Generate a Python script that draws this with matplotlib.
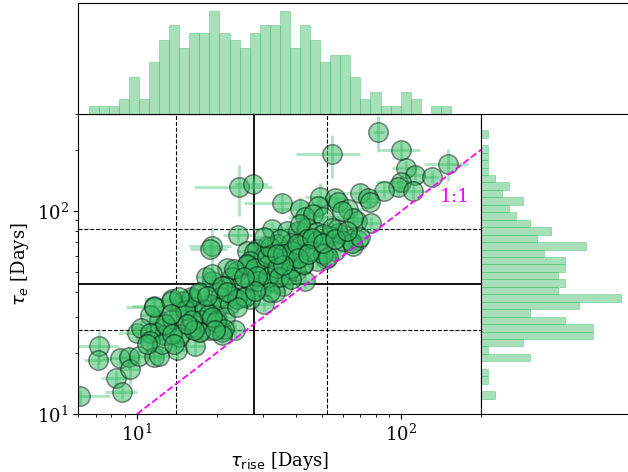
import numpy as np
import matplotlib.pyplot as plt

plt.rcParams['font.family'] = 'serif'
plt.rcParams['mathtext.fontset'] = 'dejavusans'

# rise time and e-folding time (days) with 1-sigma errors
tau_rise = [81.8, 54.8, 100, 150, 104, 113, 130, 100, 97, 111, 86, 70, 74.5, 76, 24.4,
            27.4, 35.3, 41.3, 49.2, 56, 57.7, 48.5, 63, 67.7, 77, 43.2, 46.4, 50.6, 65.8, 32.3,
            36.8, 40.8, 43.9, 47.9, 56.9, 57.7, 53.7, 63.9, 68.7, 65.8, 24.2, 19.2, 18.9, 41.5, 59.5,
            26, 28.4, 31.1, 33.8, 36.3, 38.1, 41.5, 43.9, 47.9, 50.6, 56, 52, 47.9, 42.6, 38.8,
            36.3, 32.8, 30.1, 27.6, 26.8, 31.4, 29.3, 33.8, 36.3, 40.1, 43.2, 21.9, 23.9, 26, 22.8,
            24.9, 26.8, 29.6, 32.3, 35.8, 33.3, 30.1, 26.8, 25, 22.8, 21.5, 20.3, 19.2, 18.2, 19.2,
            20.6, 18.9, 20.3, 22.5, 23.9, 17.2, 16, 14.9, 13.6, 14.4, 15.4, 16.6, 17.9, 17.4, 18.7,
            20, 21.5, 23.5, 21, 18.9, 17.2, 16, 14.6, 12.9, 12.1, 11.7, 12.6, 13.6, 11.6, 11.2,
            6.1, 7.2, 7.1, 8.3, 8.8, 8.6, 9.3, 9.4, 10.2, 10, 10.4, 11.2, 11.2, 11.6, 11.6,
            12.1, 14.2, 16.6, 12.8, 13.4, 14.4, 15.2, 16, 17.1, 17.3, 19.9, 21.3, 26, 28, 28.8,
            31.1, 31.4, 31.9, 33.8, 34.8, 35.8, 38.1, 38.6, 40.3, 42.6, 45.1, 45.8, 50.6, 52.9, 54.5,
            60.3, 65, 70,
            12.4, 13.6, 16.1, 14.4, 13.4, 16.4, 21, 19.2, 21, 23.2, 25.6, 23.9,
            28.4, 34.3, 31.9, 38.1, 40.8, 28, 21.9, 18.4, 15.4, 13.8, 10.9, 19.8, 25.3, 35.8, 44.5,
            50.6, 56, 62.2, 30.1, 33.8]
tau_e = [244, 191, 199, 171, 162, 150, 147, 138, 131, 125, 126, 122, 116, 111, 131,
         136, 109, 102, 117, 116, 110, 106, 102, 89, 87, 92.8, 96, 92.8, 92, 81,
         80, 80, 82.8, 79, 81, 78, 75.4, 72, 72, 67, 76, 67.5, 65, 85.8, 100,
         63.8, 65, 67.5, 68.6, 63.8, 69.8, 67.5, 72.6, 71, 76.8, 63.8, 58, 56.9, 53.9, 60,
         56.9, 60, 60, 62.5, 56.9, 53.9, 50.8, 50.8, 48, 50.8, 45.3, 52.3, 50.8, 53.9, 47.1,
         43.7, 45.3, 42.1, 45.3, 42.9, 39.8, 34.9, 36.9, 37.6, 38.3, 42.9, 41.3, 45.3, 47.1, 48.9,
         37.6, 34.9, 33.6, 34.9, 36.9, 39, 36.9, 36.2, 36.9, 31.8, 32.4, 33.6, 33, 28.9, 31.2,
         28.9, 30, 25.8, 25.3, 25.8, 25.3, 26.8, 24.8, 26.8, 28.9, 25.3, 24.4, 29.4, 34.2, 30.6,
         12.2, 21.7, 18.4, 15, 12.8, 18.8, 19.1, 16.6, 19.2, 25, 26.6, 25, 23, 33.8, 19.1,
         19.2, 20.6, 21.5, 27.8, 35.9, 24, 32.4, 37.6, 39.7, 25.3, 28.4, 26.3, 54.8, 52.6, 45.3,
         59, 47.1, 66.3, 52.6, 72.6, 61.3, 52.6, 63.8, 68.6, 54.8, 63.8, 73.8, 61, 59, 82.8,
         71, 69.8, 74,
         22.2, 24.8, 28.9, 37.6, 31.2, 25.8, 24.4, 30, 42.9, 51.8, 37.6, 33.6,
         48, 47.1, 39.8, 46.2, 58.9, 40.5, 39.7, 38.3, 27.8, 22.2, 22.2, 25.8, 47.1, 53.9, 61.3,
         69.8, 72.6, 79.4, 74, 61.3]
rise_err = [4, 15, 18, 28, 12, 10, 8, 20, 8, 12, 14, 10, 8, 6, 8,
            4, 10, 8, 6, 6, 5, 10, 12, 6, 5, 6, 4, 8, 8, 5,
            4, 4, 4, 4, 5, 4, 4, 5, 4, 4, 3, 3.5, 3, 4, 5,
            2.1, 2.3, 2.5, 2.7, 2.9, 3.0, 3.3, 3.5, 3.8, 4.0, 4.5, 4.2, 3.8, 3.4, 3.1,
            2.9, 2.6, 2.4, 2.2, 2.1, 2.5, 2.3, 2.7, 2.9, 3.2, 3.5, 1.8, 1.9, 2.1, 1.8,
            2.0, 2.1, 2.4, 2.6, 2.9, 2.7, 2.4, 2.1, 2.0, 1.8, 1.7, 1.6, 1.5, 1.5, 1.5,
            1.6, 1.5, 1.6, 1.8, 1.9, 1.4, 1.3, 1.2, 3.0, 1.2, 1.2, 1.3, 1.4, 1.4, 1.5,
            1.6, 1.7, 1.9, 1.7, 1.5, 1.4, 1.3, 1.2, 1.0, 1.0, 0.9, 1.0, 1.1, 2.0, 0.9,
            1.8, 1.3, 0.8, 1.0, 1.2, 1.2, 0.8, 0.8, 0.8, 1.5, 0.8, 1.0, 1.0, 2.5, 1.0,
            1.0, 1.5, 1.5, 1.0, 1.1, 1.2, 1.2, 1.3, 1.4, 1.4, 1.6, 1.7, 2.1, 2.2, 2.3,
            2.5, 2.5, 2.6, 2.7, 2.8, 2.9, 3.0, 3.1, 3.2, 3.4, 3.6, 3.7, 4.0, 4.2, 4.4,
            4.8, 5.2, 5.6,
            1.0, 1.1, 1.3, 1.2, 1.1, 1.3, 1.7, 1.5, 1.7, 1.9, 2.0, 1.9,
            2.3, 2.7, 2.6, 3.0, 3.3, 2.2, 1.8, 1.5, 1.2, 1.1, 0.9, 1.6, 2.0, 2.9, 3.6,
            4.0, 4.5, 5.0, 2.4, 2.7]
e_err = [50, 45, 22, 30, 15, 12, 10, 10, 12, 10, 10, 12, 10, 8, 37,
         8, 12, 15, 20, 10, 8, 8, 8, 6, 6, 8, 6, 6, 6, 6,
         6, 6, 5, 5, 6, 5, 5, 5, 5, 5, 6, 16, 6, 6, 6,
         5.1, 5.2, 5.4, 5.5, 5.1, 5.6, 5.4, 5.8, 5.7, 6.1, 5.1, 4.6, 4.6, 4.3, 4.8,
         4.6, 4.8, 4.8, 5.0, 4.6, 4.3, 4.1, 4.1, 3.8, 4.1, 3.6, 4.2, 4.1, 4.3, 3.8,
         3.5, 3.6, 3.4, 3.6, 3.4, 3.2, 2.8, 3.0, 3.0, 3.1, 3.4, 3.3, 3.6, 3.8, 3.9,
         3.0, 2.8, 2.7, 2.8, 3.0, 3.1, 3.0, 2.9, 3.0, 2.5, 2.6, 2.7, 2.6, 2.3, 2.5,
         2.3, 2.4, 2.1, 2.0, 2.1, 2.0, 2.1, 2.0, 2.1, 2.3, 2.0, 2.0, 2.4, 2.7, 2.4,
         1.0, 4.0, 1.5, 1.2, 1.0, 2.0, 2.5, 2.5, 1.5, 2.0, 2.0, 2.0, 2.0, 3.0, 1.5,
         1.5, 2.0, 2.0, 2.2, 2.9, 1.9, 2.6, 3.0, 3.2, 2.0, 2.3, 2.1, 4.4, 4.2, 3.6,
         4.7, 3.8, 5.3, 4.2, 5.8, 4.9, 4.2, 5.1, 5.5, 4.4, 5.1, 5.9, 4.9, 4.7, 6.6,
         5.7, 5.6, 5.9,
         1.8, 2.0, 2.3, 3.0, 2.5, 2.1, 2.0, 2.4, 3.4, 4.1, 3.0, 2.7,
         3.8, 3.8, 3.2, 3.7, 4.7, 3.2, 3.2, 3.1, 2.2, 1.8, 1.8, 2.1, 3.8, 4.3, 4.9,
         5.6, 5.8, 6.4, 5.9, 4.9]

# marginal histograms (36 log-spaced bins each)
rise_counts = [1, 1, 1, 2, 5, 2, 7, 10, 12, 9, 11, 11, 14, 11, 10, 9, 11, 12,
               12, 14, 9, 12, 10, 7, 8, 8, 5, 2, 3, 1, 1, 3, 2, 0, 1, 1]
rise_bin_range = (6.56, 154)
e_counts = [2, 0, 1, 1, 0, 7, 1, 6, 16, 16, 12, 7, 14, 20, 11, 12, 11, 12,
            12, 9, 15, 8, 10, 7, 5, 4, 6, 3, 4, 2, 1, 1, 1, 1, 0, 1]
e_bin_range = (11.9, 249.5)

# 16/50/84 percentile markers
rise_pct = [14.0, 27.6, 52.2]
e_pct = [25.8, 43.7, 81.3]

xlim = (6, 200)
ylim = (10, 300)

hist_green = '#3aba62'

fig = plt.figure(figsize=(6.28, 4.72), dpi=100)
main_rect = [0.1247, 0.1229, 0.6413, 0.6356]
ax = fig.add_axes(main_rect)
ax_top = fig.add_axes([0.1247, 0.7595, 0.8853, 0.2331])
ax_right = fig.add_axes([0.766, 0.1229, 0.24, 0.6356])

ax.errorbar(tau_rise, tau_e, xerr=rise_err, yerr=e_err, fmt='o', ms=14,
            mfc=(0.2, 0.72, 0.38, 0.5), mec=(0, 0, 0, 0.45), mew=1.1,
            ecolor=(0.23, 0.75, 0.42, 0.42), elinewidth=2, capsize=0, zorder=2)

for i, v in enumerate(rise_pct):
    ax.axvline(v, color='k', lw=1.3 if i == 1 else 0.8, ls='-' if i == 1 else '--', zorder=1)
for i, v in enumerate(e_pct):
    ax.axhline(v, color='k', lw=1.3 if i == 1 else 0.8, ls='-' if i == 1 else '--', zorder=1)

ax.plot([10, 200], [10, 200], color='magenta', ls='--', lw=1.3, zorder=3)
ax.text(140, 110, '1:1', color='magenta', fontsize=13.5)

ax.set_xscale('log')
ax.set_yscale('log')
ax.set_xlim(*xlim)
ax.set_ylim(*ylim)
ax.set_xlabel(r'$\tau_{\rm rise}$ [Days]', fontsize=13)
ax.set_ylabel(r'$\tau_e$ [Days]', fontsize=13)
ax.tick_params(labelsize=13)

rise_edges = np.logspace(np.log10(rise_bin_range[0]), np.log10(rise_bin_range[1]), len(rise_counts) + 1)
ax_top.hist(rise_edges[:-1], bins=rise_edges, weights=rise_counts,
            color=hist_green, alpha=0.45, edgecolor=hist_green, lw=0.6)
ax_top.set_xscale('log')
# same pixel scale as the main panel
span = np.log10(xlim[1] / xlim[0]) * ax_top.get_position().width / main_rect[2]
ax_top.set_xlim(xlim[0], xlim[0] * 10 ** span)
ax_top.set_ylim(0, 15)
ax_top.set_xticks([])
ax_top.set_yticks([])
ax_top.minorticks_off()

e_edges = np.logspace(np.log10(e_bin_range[0]), np.log10(e_bin_range[1]), len(e_counts) + 1)
ax_right.hist(e_edges[:-1], bins=e_edges, weights=e_counts, orientation='horizontal',
              color=hist_green, alpha=0.45, edgecolor=hist_green, lw=0.6)
ax_right.set_yscale('log')
ax_right.set_ylim(*ylim)
ax_right.set_xlim(0, 21.5)
ax_right.set_xticks([])
ax_right.set_yticks([])
ax_right.minorticks_off()

fig.savefig('out.png', dpi=100)
